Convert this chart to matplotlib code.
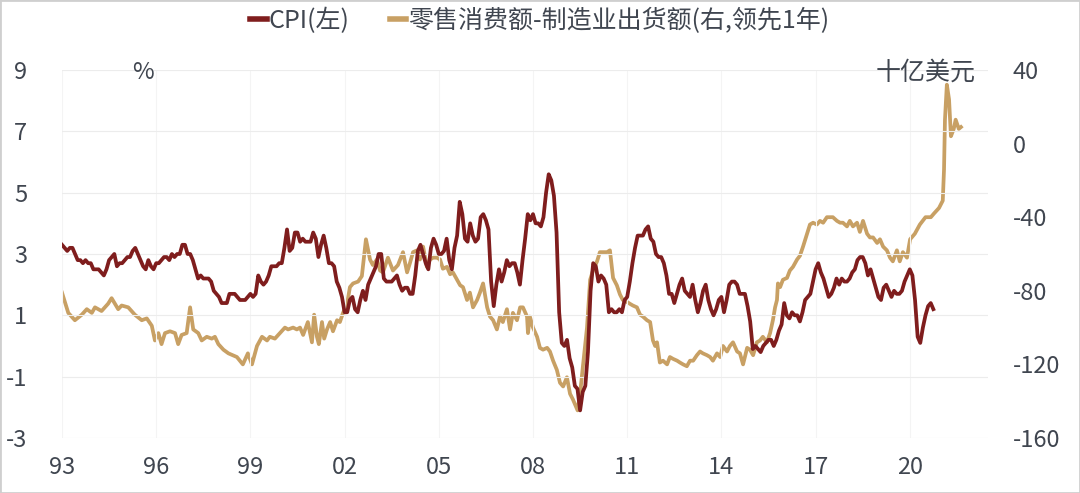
import numpy as np
import matplotlib.pyplot as plt
from matplotlib.patches import Rectangle

plt.rcParams['font.family'] = ['Noto Sans CJK SC', 'DejaVu Sans']
plt.rcParams['axes.unicode_minus'] = False

# =============================================================================
# Data
# =============================================================================

# US CPI y/y, %, monthly from Jan 1993 (left axis)
cpi_start = 1993.0
cpi = [3.3, 3.2, 3.1, 3.2, 3.2, 3.0, 2.8, 2.8, 2.7, 2.8, 2.7, 2.7,
       2.5, 2.5, 2.5, 2.4, 2.3, 2.5, 2.8, 2.9, 3.0, 2.6, 2.7, 2.7,
       2.8, 2.9, 2.9, 3.1, 3.2, 3.0, 2.8, 2.6, 2.5, 2.8, 2.6, 2.5,
       2.7, 2.7, 2.8, 2.9, 2.9, 2.8, 3.0, 2.9, 3.0, 3.0, 3.3, 3.3,
       3.0, 3.0, 2.8, 2.5, 2.2, 2.3, 2.2, 2.2, 2.2, 2.1, 1.8, 1.7,
       1.6, 1.4, 1.4, 1.4, 1.7, 1.7, 1.7, 1.6, 1.5, 1.5, 1.5, 1.6,
       1.7, 1.6, 1.7, 2.3, 2.1, 2.0, 2.1, 2.3, 2.6, 2.6, 2.6, 2.7,
       2.7, 3.2, 3.8, 3.1, 3.2, 3.7, 3.7, 3.4, 3.5, 3.4, 3.4, 3.4,
       3.7, 3.5, 2.9, 3.3, 3.6, 3.2, 2.7, 2.7, 2.6, 2.1, 1.9, 1.6,
       1.1, 1.1, 1.5, 1.6, 1.2, 1.1, 1.5, 1.8, 1.5, 2.0, 2.2, 2.4,
       2.6, 3.0, 3.0, 2.2, 2.1, 2.1, 2.1, 2.2, 2.3, 2.0, 1.8, 1.9,
       1.9, 1.7, 1.7, 2.3, 3.1, 3.3, 3.0, 2.7, 2.5, 3.2, 3.5, 3.3,
       3.0, 3.0, 3.1, 3.5, 2.8, 2.5, 3.2, 3.6, 4.7, 4.3, 3.5, 3.4,
       4.0, 3.6, 3.4, 3.5, 4.2, 4.3, 4.1, 3.8, 2.1, 1.3, 2.0, 2.5,
       2.1, 2.4, 2.8, 2.6, 2.7, 2.7, 2.4, 2.0, 2.8, 3.5, 4.3, 4.1,
       4.3, 4.0, 4.0, 3.9, 4.2, 5.0, 5.6, 5.4, 4.9, 3.7, 1.1, 0.1,
       0.0, 0.2, -0.4, -0.7, -1.3, -1.4, -2.1, -1.5, -1.3, -0.2, 1.8, 2.7,
       2.6, 2.1, 2.3, 2.2, 2.0, 1.1, 1.2, 1.1, 1.1, 1.2, 1.1, 1.5,
       1.6, 2.1, 2.7, 3.2, 3.6, 3.6, 3.6, 3.8, 3.9, 3.5, 3.4, 3.0,
       2.9, 2.9, 2.7, 2.3, 1.7, 1.7, 1.4, 1.7, 2.0, 2.2, 1.8, 1.7,
       1.6, 2.0, 1.5, 1.1, 1.4, 1.8, 2.0, 1.5, 1.2, 1.0, 1.2, 1.5,
       1.6, 1.1, 1.5, 2.0, 2.1, 2.1, 2.0, 1.7, 1.7, 1.7, 1.3, 0.8,
       -0.1, 0.0, -0.1, -0.2, 0.0, 0.1, 0.2, 0.2, 0.0, 0.2, 0.5, 0.7,
       1.4, 1.0, 0.9, 1.1, 1.0, 1.0, 0.8, 1.1, 1.5, 1.6, 1.7, 2.1,
       2.5, 2.7, 2.4, 2.2, 1.9, 1.6, 1.7, 1.9, 2.2, 2.0, 2.2, 2.1,
       2.1, 2.2, 2.4, 2.5, 2.8, 2.9, 2.9, 2.7, 2.3, 2.5, 2.2, 1.9,
       1.6, 1.5, 1.9, 2.0, 1.8, 1.6, 1.8, 1.7, 1.7, 1.8, 2.1, 2.3,
       2.5, 2.3, 1.5, 0.3, 0.1, 0.6, 1.0, 1.3, 1.4, 1.2]

# retail sales minus manufacturers' shipments, bn USD, led 1 year (right axis)
gold_t = [1993.00, 1993.20, 1993.41, 1993.63, 1993.79, 1993.95, 1994.05, 1994.26,
          1994.47, 1994.58, 1994.79, 1994.90, 1995.11, 1995.32, 1995.54, 1995.70,
          1995.86, 1995.96, 1996.07, 1996.17, 1996.28, 1996.44, 1996.60, 1996.70,
          1996.81, 1996.97, 1997.08, 1997.18, 1997.34, 1997.45, 1997.61, 1997.77,
          1997.87, 1997.98, 1998.14, 1998.30, 1998.57, 1998.76, 1998.92, 1999.05,
          1999.21, 1999.37, 1999.53, 1999.62, 1999.78, 1999.94, 2000.10, 2000.20,
          2000.36, 2000.48, 2000.58, 2000.68, 2000.83, 2000.96, 2001.03, 2001.12,
          2001.18, 2001.28, 2001.35, 2001.44, 2001.54, 2001.63, 2001.76, 2001.85,
          2001.95, 2002.08, 2002.17, 2002.27, 2002.43, 2002.55, 2002.68, 2002.81,
          2002.90, 2003.03, 2003.13, 2003.22, 2003.38, 2003.54, 2003.70, 2003.86,
          2003.99, 2004.08, 2004.18, 2004.31, 2004.40, 2004.50, 2004.62, 2004.72,
          2004.82, 2004.94, 2005.04, 2005.13, 2005.26, 2005.36, 2005.45, 2005.58,
          2005.68, 2005.77, 2005.90, 2005.99, 2006.09, 2006.22, 2006.31, 2006.41,
          2006.54, 2006.63, 2006.73, 2006.85, 2006.95, 2007.04, 2007.17, 2007.27,
          2007.36, 2007.49, 2007.59, 2007.68, 2007.81, 2007.84, 2007.90, 2008.00,
          2008.13, 2008.22, 2008.32, 2008.45, 2008.54, 2008.64, 2008.76, 2008.86,
          2008.96, 2009.08, 2009.18, 2009.27, 2009.42, 2009.50, 2009.59, 2009.72,
          2009.82, 2009.91, 2010.04, 2010.13, 2010.23, 2010.36, 2010.45, 2010.55,
          2010.67, 2010.77, 2010.86, 2010.99, 2011.08, 2011.18, 2011.31, 2011.41,
          2011.50, 2011.63, 2011.73, 2011.82, 2011.89, 2011.95, 2012.04, 2012.14,
          2012.27, 2012.36, 2012.46, 2012.59, 2012.68, 2012.78, 2012.90, 2013.00,
          2013.10, 2013.22, 2013.32, 2013.41, 2013.54, 2013.64, 2013.73, 2013.86,
          2013.96, 2014.05, 2014.18, 2014.27, 2014.37, 2014.50, 2014.59, 2014.69,
          2014.82, 2014.91, 2015.01, 2015.13, 2015.23, 2015.32, 2015.45, 2015.55,
          2015.64, 2015.71, 2015.77, 2015.80, 2015.87, 2015.96, 2016.09, 2016.18,
          2016.28, 2016.41, 2016.50, 2016.60, 2016.73, 2016.82, 2016.92, 2017.04,
          2017.14, 2017.24, 2017.36, 2017.46, 2017.55, 2017.68, 2017.78, 2017.87,
          2018.00, 2018.09, 2018.19, 2018.32, 2018.41, 2018.51, 2018.64, 2018.73,
          2018.83, 2018.96, 2019.05, 2019.15, 2019.27, 2019.37, 2019.46, 2019.59,
          2019.68, 2019.78, 2019.91, 2020.01, 2020.16, 2020.32, 2020.50, 2020.67,
          2020.77, 2020.93, 2021.05, 2021.09, 2021.12, 2021.18, 2021.25, 2021.31,
          2021.40, 2021.46, 2021.56, 2021.63]
gold_v = [-81, -92, -96, -93, -90, -92, -89, -91,
          -87, -84, -90, -88, -89, -93, -96, -95,
          -99, -107, -103, -109, -103, -102, -103, -109,
          -104, -103, -89, -101, -103, -107, -105, -106,
          -105, -109, -112, -114, -116, -120, -114, -120,
          -110, -105, -107, -105, -106, -103, -100, -101,
          -100, -101, -100, -104, -97, -108, -93, -105,
          -109, -97, -106, -101, -97, -102, -96, -97,
          -92, -87, -78, -76, -75, -72, -52, -63,
          -66, -63, -69, -70, -62, -69, -66, -59,
          -70, -65, -59, -58, -63, -56, -67, -63,
          -62, -62, -63, -68, -67, -71, -70, -74,
          -77, -78, -85, -81, -89, -85, -81, -76,
          -89, -94, -96, -101, -94, -97, -90, -101,
          -92, -96, -89, -89, -94, -103, -94, -100,
          -105, -111, -112, -111, -113, -118, -123, -130,
          -132, -127, -136, -139, -145, -136, -121, -100,
          -74, -69, -64, -59, -59, -59, -58, -73,
          -77, -82, -85, -86, -87, -88, -89, -93,
          -94, -96, -97, -107, -110, -108, -119, -118,
          -120, -116, -117, -118, -119, -120, -121, -118,
          -118, -115, -113, -114, -115, -116, -118, -114,
          -116, -110, -113, -110, -108, -113, -114, -120,
          -111, -112, -115, -108, -107, -105, -108, -103,
          -96, -89, -85, -76, -78, -74, -73, -69,
          -67, -63, -61, -56, -49, -44, -43, -44,
          -42, -43, -40, -40, -40, -42, -43, -43,
          -45, -42, -45, -43, -48, -42, -49, -51,
          -51, -54, -52, -56, -58, -62, -64, -58,
          -64, -59, -62, -52, -49, -44, -40, -40,
          -38, -35, -31, -14, 13, 32, 24, 4,
          8, 13, 8, 9]

xtick_years = [1993, 1996, 1999, 2002, 2005, 2008, 2011, 2014, 2017, 2020]
xtick_labels = ['93', '96', '99', '02', '05', '08', '11', '14', '17', '20']
left_ticks = [9, 7, 5, 3, 1, -1, -3]
right_ticks = [40, 0, -40, -80, -120, -160]

# =============================================================================
# Plot
# =============================================================================

c_cpi = '#7f1d1d'
c_gold = '#c8a064'
c_text = '#404650'

cpi_t = cpi_start + np.arange(len(cpi))/12

fig = plt.figure(figsize=(10.8, 4.93), dpi=100)
ax = fig.add_axes([0.0574, 0.1116, 0.8574, 0.7464])
ax2 = ax.twinx()

l1, = ax.plot(cpi_t, cpi, color=c_cpi, lw=2.7, label='CPI(左)', zorder=3)
l2, = ax2.plot(gold_t, gold_v, color=c_gold, lw=2.7, label='零售消费额-制造业出货额(右,领先1年)', zorder=2)
ax.set_zorder(ax2.get_zorder()+1)
ax.patch.set_visible(False)

ax.set_xlim(1993.0, 2022.49)
ax.set_ylim(-3, 9)
ax2.set_ylim(-160, 40)

ax.set_yticks(left_ticks)
ax2.set_yticks(right_ticks)
ax.set_xticks(xtick_years)
ax.set_xticklabels(xtick_labels)

ax.grid(True, axis='y', color='#ececec', lw=0.8)
ax.grid(True, axis='x', color='#f4f4f4', lw=0.8)
ax.set_axisbelow(True)
for a in (ax, ax2):
    for s in a.spines.values():
        s.set_visible(False)
ax.tick_params(axis='y', length=0, pad=25, labelsize=17, labelcolor=c_text)
ax.tick_params(axis='x', length=0, pad=13, labelsize=17, labelcolor=c_text)
ax2.tick_params(axis='y', length=0, pad=18, labelsize=17, labelcolor=c_text)

fig.text(0.132, 0.852, '%', fontsize=17, color=c_text, ha='center', va='center')
fig.text(0.903, 0.852, '十亿美元', fontsize=18, color=c_text, ha='right', va='center')

fig.legend(handles=[l1, l2], loc='upper center', bbox_to_anchor=(0.5, 1.03),
           ncol=2, frameon=False, fontsize=18, handlelength=0.65,
           handletextpad=0.1, columnspacing=1.6, labelcolor=c_text)
for h in fig.legends[0].legend_handles:
    h.set_linewidth(4)

fig.patches.append(Rectangle((0, 0), 1, 1, transform=fig.transFigure,
                             fill=False, edgecolor='#cfcfcf', lw=2))

fig.savefig('out.png', dpi=100)
